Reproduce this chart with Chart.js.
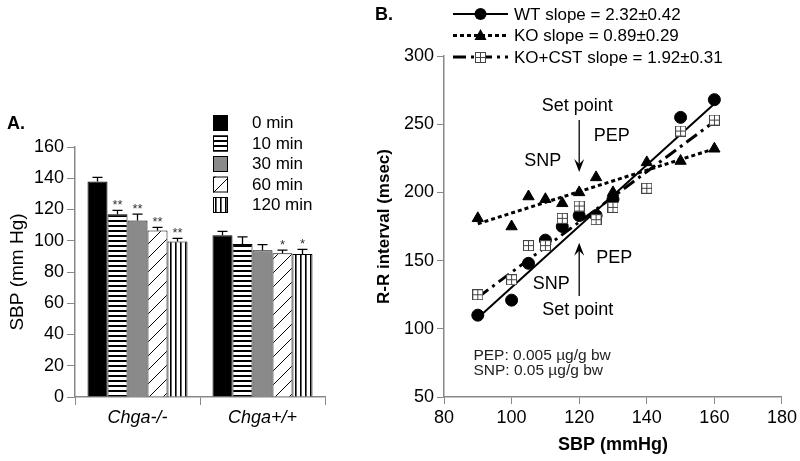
<!DOCTYPE html>
<html>
<head>
<meta charset="utf-8">
<script src="https://cdn.jsdelivr.net/npm/chart.js@4.4.1/dist/chart.umd.min.js"></script>
<style>
html, body { margin: 0; padding: 0; background: #fff; }
#chartA { position: absolute; left: 0; top: 0; }
#chartB { position: absolute; left: 350px; top: 0; }
</style>
</head>
<body>
<canvas id="chartA" width="350" height="461"></canvas>
<canvas id="chartB" width="450" height="461"></canvas>
<script>
// ---- Panel A data: SBP by time after drug, per genotype ----
const genotypes = ['Chga-/-', 'Chga+/+'];
const timeLabels = ['0 min', '10 min', '30 min', '60 min', '120 min'];
const sbp0 = [138, 103.5];
const sbp10 = [117, 98];
const sbp30 = [113, 94];
const sbp60 = [106.5, 92];
const sbp120 = [99.5, 91.5];
const sem0 = [2.5, 2.5];
const sem10 = [2.5, 4.5];
const sem30 = [4, 3.5];
const sem60 = [2, 2];
const sem120 = [2, 3];
const sig0 = ['', ''];
const sig10 = ['**', ''];
const sig30 = ['**', ''];
const sig60 = ['**', '*'];
const sig120 = ['**', '*'];

// ---- Panel B data: R-R interval vs SBP ----
const wtSbp = [90, 100, 105, 110, 115, 120, 125, 130, 150, 160];
const wtRR = [110, 121, 148, 165, 175, 183, 183, 195, 255, 268];
const koSbp = [90, 100, 105, 110, 115, 120, 125, 130, 140, 150, 160];
const koRR = [181, 175, 197, 195, 192, 200, 211, 200, 222, 223, 232];
const cstSbp = [90, 100, 105, 110, 115, 120, 125, 130, 140, 150, 160];
const cstRR = [125, 136, 161, 161, 181, 190, 180, 189, 203, 245, 253];
const wtFit = [[90, 108], [160, 265]];
const koFit = [[90, 177], [160, 232]];
const cstFit = [[90, 123], [160, 252]];
const slopeNames = ['WT', 'KO', 'KO+CST'];
const slopes = ['2.32', '0.89', '1.92'];
const slopeErr = ['0.42', '0.29', '0.31'];

const FONT = 'Arial, "Liberation Sans", sans-serif';
Chart.defaults.font.family = FONT;
Chart.defaults.color = '#000';

function makePattern(kind) {
    const c = document.createElement('canvas');
    const x = c.getContext('2d');
    if (kind === 'h') {
        c.width = 5; c.height = 5;
        x.fillStyle = '#fff'; x.fillRect(0, 0, 5, 5);
        x.fillStyle = '#000'; x.fillRect(0, 0, 5, 2);
    } else if (kind === 'v') {
        c.width = 5; c.height = 5;
        x.fillStyle = '#fff'; x.fillRect(0, 0, 5, 5);
        x.fillStyle = '#000'; x.fillRect(0, 0, 1.6, 5);
    } else {
        c.width = 14; c.height = 14;
        x.fillStyle = '#fff'; x.fillRect(0, 0, 14, 14);
        x.strokeStyle = '#000'; x.lineWidth = 1;
        x.beginPath();
        x.moveTo(-1, 15); x.lineTo(15, -1);
        x.stroke();
    }
    return x.createPattern(c, 'repeat');
}

const fillsA = ['#000', makePattern('h'), '#8a8a8a', makePattern('d'), makePattern('v')];
const valuesA = [sbp0, sbp10, sbp30, sbp60, sbp120];
const semA = [sem0, sem10, sem30, sem60, sem120];
const sigA = [sig0, sig10, sig30, sig60, sig120];

const errorBarsA = {
    id: 'errorBarsA',
    afterDatasetsDraw(chart) {
        const ctx = chart.ctx;
        const yScale = chart.scales.y;
        ctx.save();
        chart.data.datasets.forEach((ds, i) => {
            chart.getDatasetMeta(i).data.forEach((bar, j) => {
                const top = yScale.getPixelForValue(ds.data[j] + semA[i][j]);
                ctx.strokeStyle = '#000';
                ctx.lineWidth = 1.3;
                ctx.beginPath();
                ctx.moveTo(bar.x, bar.y);
                ctx.lineTo(bar.x, top);
                ctx.moveTo(bar.x - 5, top);
                ctx.lineTo(bar.x + 5, top);
                ctx.stroke();
                if (sigA[i][j]) {
                    ctx.fillStyle = '#333';
                    ctx.font = '13px ' + FONT;
                    ctx.textAlign = 'center';
                    ctx.textBaseline = 'middle';
                    ctx.fillText(sigA[i][j], bar.x, top - 5);
                }
            });
        });
        // legend boxes
        chart.data.datasets.forEach((ds, i) => {
            const y = 115 + i * 20.5;
            ctx.fillStyle = ds.backgroundColor;
            ctx.fillRect(213, y, 15, 16);
            ctx.strokeStyle = '#000';
            ctx.lineWidth = 1;
            ctx.strokeRect(213.5, y + 0.5, 14, 15);
            ctx.fillStyle = '#000';
            ctx.font = '17px ' + FONT;
            ctx.textAlign = 'left';
            ctx.textBaseline = 'middle';
            ctx.fillText(ds.label, 252, y + 8.5);
        });
        ctx.font = 'bold 18px ' + FONT;
        ctx.fillText('A.', 7, 124);
        ctx.restore();
    }
};

new Chart(document.getElementById('chartA'), {
    type: 'bar',
    data: {
        labels: genotypes,
        datasets: timeLabels.map((t, i) => ({
            label: t,
            data: valuesA[i],
            backgroundColor: fillsA[i],
            borderColor: '#000',
            borderWidth: 1,
            barPercentage: 1,
            categoryPercentage: 0.8
        }))
    },
    options: {
        responsive: false,
        animation: false,
        layout: { padding: { top: 147, right: 25, left: 0, bottom: 0 } },
        plugins: { legend: { display: false }, tooltip: { enabled: false } },
        scales: {
            x: {
                grid: { drawOnChartArea: false, tickLength: 8, color: '#888', offset: true },
                border: { color: '#888', width: 1.5 },
                ticks: { font: { size: 18, style: 'italic' }, padding: 2 },
                afterFit: s => { s.height = 64; }
            },
            y: {
                min: 0, max: 160,
                ticks: { stepSize: 20, font: { size: 18 }, padding: 3 },
                grid: { drawOnChartArea: false, tickLength: 8, color: '#888' },
                border: { color: '#888', width: 1.5 },
                title: { display: true, text: 'SBP (mm Hg)', font: { size: 19 }, padding: { top: 6, bottom: 0 } },
                afterFit: s => { s.width = 75; }
            }
        }
    },
    plugins: [errorBarsA]
});

// ---- Panel B ----
function boxedCross(size) {
    const c = document.createElement('canvas');
    c.width = c.height = size;
    const x = c.getContext('2d');
    x.fillStyle = '#fff';
    x.fillRect(0, 0, size, size);
    x.strokeStyle = '#444';
    x.lineWidth = 1;
    x.strokeRect(0.5, 0.5, size - 1, size - 1);
    x.beginPath();
    x.moveTo(size / 2, 0.5); x.lineTo(size / 2, size - 0.5);
    x.moveTo(0.5, size / 2); x.lineTo(size - 0.5, size / 2);
    x.stroke();
    return c;
}
const crossBox = boxedCross(11);

const toPts = (xs, ys) => xs.map((v, i) => ({ x: v, y: ys[i] }));
const fitPts = f => f.map(p => ({ x: p[0], y: p[1] }));

const lineStyles = [
    { dash: [], width: 2 },
    { dash: [4, 3], width: 3 },
    { dash: [13, 5, 3, 5], width: 3 }
];

const annotTexts = [
    ['Set point', 119.4, 263], ['PEP', 129.6, 241], ['SNP', 109.2, 223],
    ['PEP', 130.4, 152], ['SNP', 111.7, 133], ['Set point', 119.6, 114]
];
const annotArrows = [[120, 253, 215], [120, 124, 163]];
const doseNotes = [['PEP: 0.005 \u00b5g/g bw', 88.7, 80.5], ['SNP: 0.05 \u00b5g/g bw', 88.7, 69.5]];

function drawMarker(ctx, kind, x, y) {
    ctx.fillStyle = '#000';
    if (kind === 'circle') {
        ctx.beginPath(); ctx.arc(x, y, 6, 0, Math.PI * 2); ctx.fill();
    } else if (kind === 'triangle') {
        ctx.beginPath();
        ctx.moveTo(x, y - 6.5); ctx.lineTo(x + 6, y + 4.5); ctx.lineTo(x - 6, y + 4.5);
        ctx.closePath(); ctx.fill();
    } else {
        ctx.drawImage(crossBox, Math.round(x - 5.5), Math.round(y - 5.5));
    }
}

const annotB = {
    id: 'annotB',
    afterDraw(chart) {
        const ctx = chart.ctx;
        const xs = chart.scales.x, ys = chart.scales.y;
        ctx.save();
        // legend
        ['circle', 'triangle', 'box'].forEach((m, i) => {
            const y = 14 + i * 21.5;
            ctx.strokeStyle = '#000';
            ctx.lineWidth = lineStyles[i].width;
            ctx.setLineDash(lineStyles[i].dash);
            ctx.beginPath(); ctx.moveTo(103, y); ctx.lineTo(158, y); ctx.stroke();
            ctx.setLineDash([]);
            drawMarker(ctx, m, 130.5, y);
            ctx.fillStyle = '#000';
            ctx.font = '17px ' + FONT;
            ctx.textAlign = 'left';
            ctx.textBaseline = 'middle';
            ctx.fillText(slopeNames[i] + ' slope = ' + slopes[i] + '\u00b1' + slopeErr[i], 164, y + 1);
        });
        ctx.font = 'bold 18px ' + FONT;
        ctx.fillText('B.', 25, 15);
        // arrows
        annotArrows.forEach(a => {
            const x = xs.getPixelForValue(a[0]);
            const y0 = ys.getPixelForValue(a[1]);
            const y1 = ys.getPixelForValue(a[2]);
            const dir = y1 > y0 ? 1 : -1;
            ctx.strokeStyle = '#000'; ctx.lineWidth = 1.3;
            ctx.beginPath(); ctx.moveTo(x, y0); ctx.lineTo(x, y1 - dir * 4); ctx.stroke();
            ctx.fillStyle = '#000';
            ctx.beginPath();
            ctx.moveTo(x, y1);
            ctx.lineTo(x - 5, y1 - dir * 13);
            ctx.lineTo(x, y1 - dir * 8);
            ctx.lineTo(x + 5, y1 - dir * 13);
            ctx.closePath(); ctx.fill();
        });
        ctx.font = '18px ' + FONT;
        ctx.textAlign = 'center';
        annotTexts.forEach(t => {
            ctx.fillText(t[0], xs.getPixelForValue(t[1]), ys.getPixelForValue(t[2]));
        });
        ctx.font = '15.5px ' + FONT;
        ctx.textAlign = 'left';
        ctx.fillStyle = '#222';
        doseNotes.forEach(t => {
            ctx.fillText(t[0], xs.getPixelForValue(t[1]), ys.getPixelForValue(t[2]));
        });
        ctx.restore();
    }
};

new Chart(document.getElementById('chartB'), {
    type: 'scatter',
    data: {
        datasets: [
            { label: 'KO+CST', data: toPts(cstSbp, cstRR), pointStyle: crossBox, pointRadius: 6, order: 1 },
            { label: 'KO', data: toPts(koSbp, koRR), pointStyle: 'triangle', pointRadius: 6.5, backgroundColor: '#000', borderColor: '#000', order: 2 },
            { label: 'WT', data: toPts(wtSbp, wtRR), pointStyle: 'circle', pointRadius: 6, backgroundColor: '#000', borderColor: '#000', order: 3 },
            { type: 'line', label: 'WT fit', data: fitPts(wtFit), borderColor: '#000', borderWidth: lineStyles[0].width, borderDash: lineStyles[0].dash, pointRadius: 0, order: 4 },
            { type: 'line', label: 'KO fit', data: fitPts(koFit), borderColor: '#000', borderWidth: lineStyles[1].width, borderDash: lineStyles[1].dash, pointRadius: 0, order: 5 },
            { type: 'line', label: 'KO+CST fit', data: fitPts(cstFit), borderColor: '#000', borderWidth: lineStyles[2].width, borderDash: lineStyles[2].dash, pointRadius: 0, order: 6 }
        ]
    },
    options: {
        responsive: false,
        animation: false,
        layout: { padding: { top: 56, right: 18, left: 0, bottom: 0 } },
        plugins: { legend: { display: false }, tooltip: { enabled: false } },
        scales: {
            x: {
                type: 'linear', min: 80, max: 180,
                ticks: { stepSize: 20, font: { size: 18 }, padding: 3 },
                grid: { drawOnChartArea: false, tickLength: 7, color: '#888' },
                border: { color: '#888', width: 1.5 },
                title: { display: true, text: 'SBP (mmHg)', font: { size: 18, weight: 'bold' }, padding: { top: 0, bottom: 5 } },
                afterFit: s => { s.height = 64; }
            },
            y: {
                min: 50, max: 300,
                ticks: { stepSize: 50, font: { size: 18 }, padding: 3 },
                grid: { drawOnChartArea: false, tickLength: 7, color: '#888' },
                border: { color: '#888', width: 1.5 },
                title: { display: true, text: 'R-R interval (msec)', font: { size: 17, weight: 'bold' }, padding: { top: 24, bottom: 0 } },
                afterFit: s => { s.width = 94; }
            }
        }
    },
    plugins: [annotB]
});
</script>
</body>
</html>
